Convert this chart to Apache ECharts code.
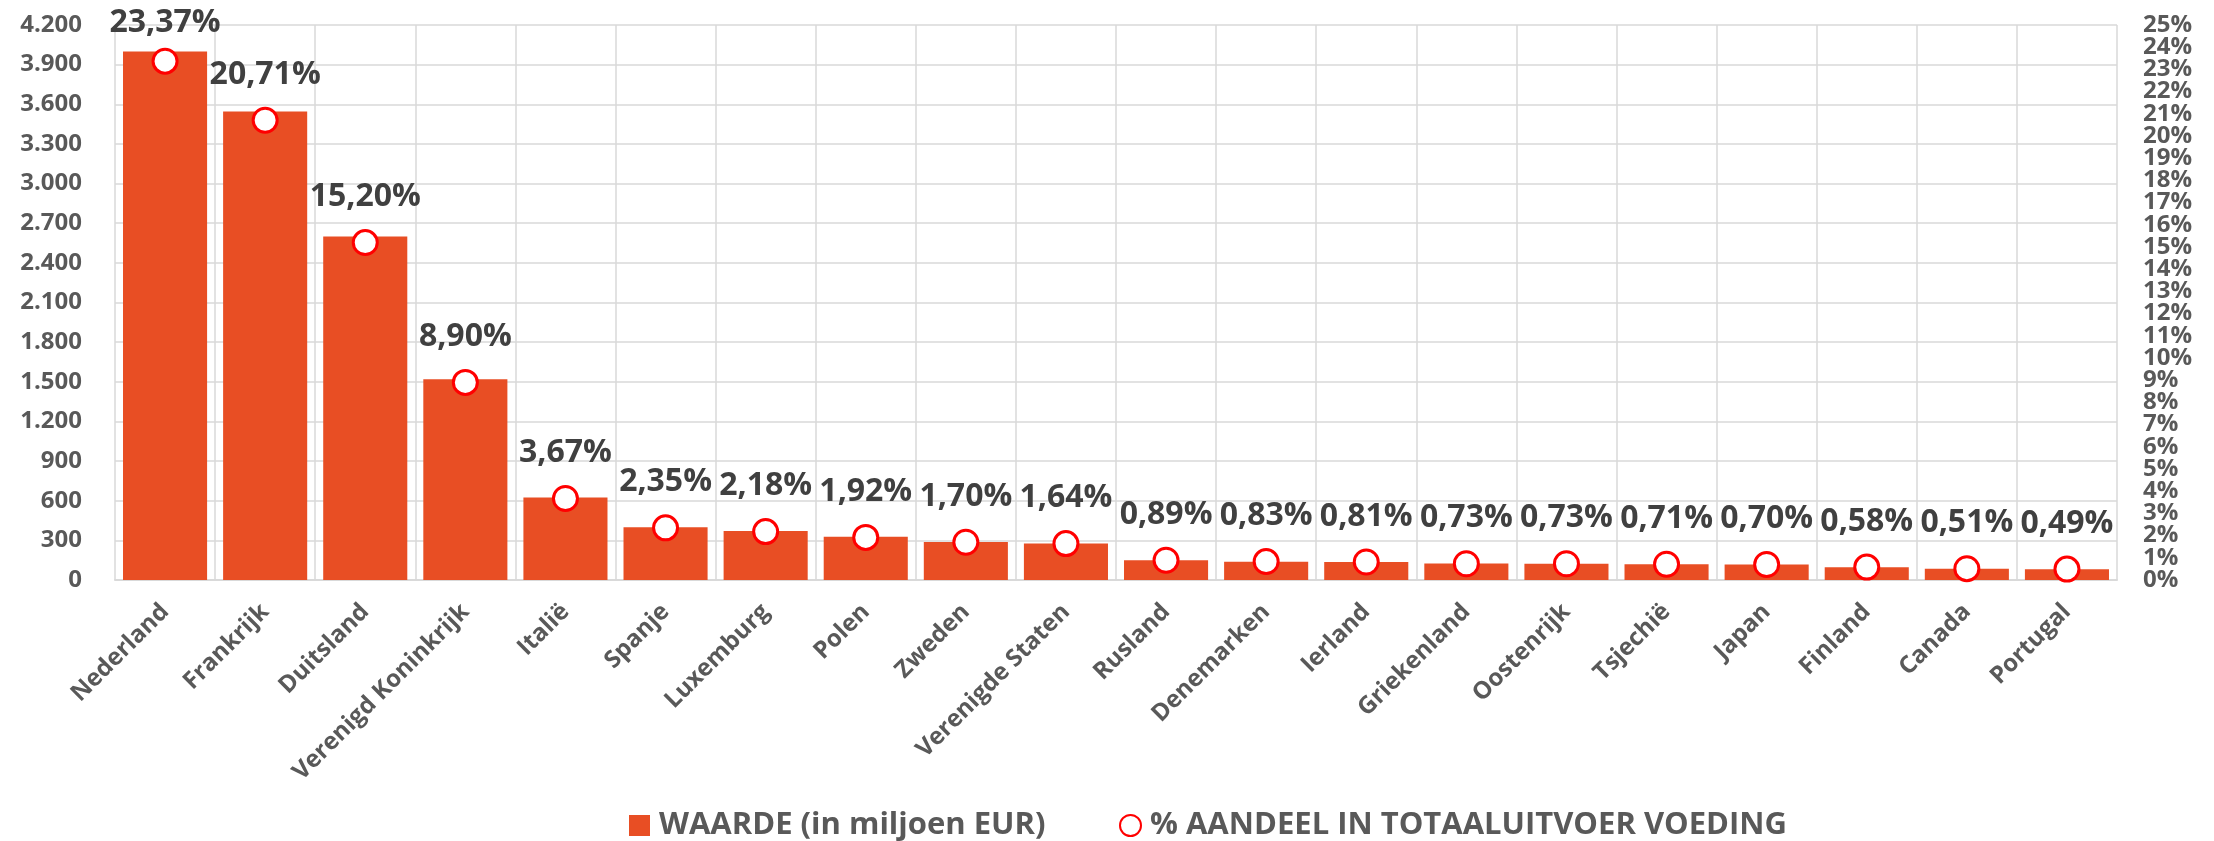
<!DOCTYPE html>
<html>
<head>
<meta charset="utf-8">
<script src="https://cdn.jsdelivr.net/npm/echarts@6/dist/echarts.min.js"></script>
<style>
html,body{margin:0;padding:0;background:#fff;}
#chart{width:2214px;height:841px;}
</style>
</head>
<body>
<div id="chart"></div>
<script>
var categories = ['Nederland','Frankrijk','Duitsland','Verenigd Koninkrijk','Italië','Spanje','Luxemburg','Polen','Zweden','Verenigde Staten','Rusland','Denemarken','Ierland','Griekenland','Oostenrijk','Tsjechië','Japan','Finland','Canada','Portugal'];
var waarde = [4000, 3545, 2600, 1520, 625, 400, 370, 327, 288, 276, 150, 139, 137, 124, 123, 120, 117, 97, 85, 81];
var aandeel = [23.37, 20.71, 15.20, 8.90, 3.67, 2.35, 2.18, 1.92, 1.70, 1.64, 0.89, 0.83, 0.81, 0.73, 0.73, 0.71, 0.70, 0.58, 0.51, 0.49];
var leftAxisMax = 4200, leftAxisStep = 300;
var rightAxisMax = 25, rightAxisStep = 1;
var seriesNames = ['WAARDE (in miljoen EUR)', '% AANDEEL IN TOTAALUITVOER VOEDING'];

var FONT = '"Open Sans", "Noto Sans", sans-serif';
var grey = '#595959', gridC = '#D9D9D9';

function thousands(v){
  return String(v).replace(/\B(?=(\d{3})+(?!\d))/g, '.');
}

// label placement: the highest label is pulled down to stay inside the chart (as in the original)
var aandeelData = aandeel.map(function(v, i){
  return i === 0 ? {value: v, label: {distance: 9}} : v;
});

var rightLabelStyle = {margin: 26, color: grey, fontFamily: FONT, fontWeight: 'bold', fontSize: 24};

var chart = echarts.init(document.getElementById('chart'));
chart.setOption({
  backgroundColor: '#fff',
  animation: false,
  textStyle: {fontFamily: FONT},
  grid: {left: 115, right: 97, top: 25, bottom: 261, containLabel: false},
  legend: [
    {data: [seriesNames[0]], left: 624, top: 805, itemWidth: 21, itemHeight: 21, icon: 'rect',
     textStyle: {color: grey, fontFamily: FONT, fontWeight: 'bold', fontSize: 31, padding: [0,0,0,4]}},
    {data: [{name: seriesNames[1], icon: 'circle'}], left: 1114, top: 805, itemWidth: 21, itemHeight: 21,
     itemStyle: {borderWidth: 2},
     textStyle: {color: grey, fontFamily: FONT, fontWeight: 'bold', fontSize: 31, padding: [0,0,0,4]}}
  ],
  xAxis: {
    type: 'category',
    data: categories,
    boundaryGap: true,
    axisLine: {show: true, lineStyle: {color: gridC, width: 2}},
    axisTick: {show: false},
    splitLine: {show: true, interval: 0, lineStyle: {color: gridC, width: 1.5}},
    axisLabel: {interval: 0, rotate: 45, margin: 28, color: grey, fontFamily: FONT, fontWeight: 'bold', fontSize: 24}
  },
  yAxis: [
    {
      type: 'value', min: 0, max: leftAxisMax, interval: leftAxisStep,
      axisLine: {show: false}, axisTick: {show: false},
      splitLine: {show: true, lineStyle: {color: gridC, width: 1.5}},
      axisLabel: {margin: 33, color: grey, fontFamily: FONT, fontWeight: 'bold', fontSize: 24,
                  showMinLabel: true, showMaxLabel: true,
                  formatter: function(v){ return thousands(v); }}
    },
    // right percentage axis (used by the line series): labels 0%, 2%, ... 24%
    {
      type: 'value', min: 0, max: rightAxisMax, interval: rightAxisStep * 2, position: 'right',
      axisLine: {show: false}, axisTick: {show: false}, splitLine: {show: false},
      axisLabel: Object.assign({}, rightLabelStyle, {showMaxLabel: false,
                  formatter: function(v){ return v + '%'; }})
    },
    // same scale read from the top: labels 25%, 23%, ... 1% (the labels are denser than the text height)
    {
      type: 'value', min: 0, max: rightAxisMax, interval: rightAxisStep * 2, position: 'right', inverse: true,
      axisLine: {show: false}, axisTick: {show: false}, splitLine: {show: false},
      axisLabel: Object.assign({}, rightLabelStyle, {showMaxLabel: false,
                  formatter: function(v){ return (rightAxisMax - v) + '%'; }})
    }
  ],
  series: [
    {
      name: seriesNames[0], type: 'bar', yAxisIndex: 0, data: waarde,
      barCategoryGap: '16%',
      itemStyle: {color: '#E84E24'}
    },
    {
      name: seriesNames[1], type: 'line', yAxisIndex: 1, data: aandeelData,
      symbol: 'circle', symbolSize: 24,
      lineStyle: {width: 0, opacity: 0},
      itemStyle: {color: '#FFFFFF', borderColor: '#FF0000', borderWidth: 3},
      label: {show: true, position: 'top', distance: 16, color: '#404040', fontFamily: FONT,
              fontWeight: 'bold', fontSize: 32,
              formatter: function(p){ return p.value.toFixed(2).replace('.', ',') + '%'; }},
      z: 5
    }
  ]
});
</script>
</body>
</html>
